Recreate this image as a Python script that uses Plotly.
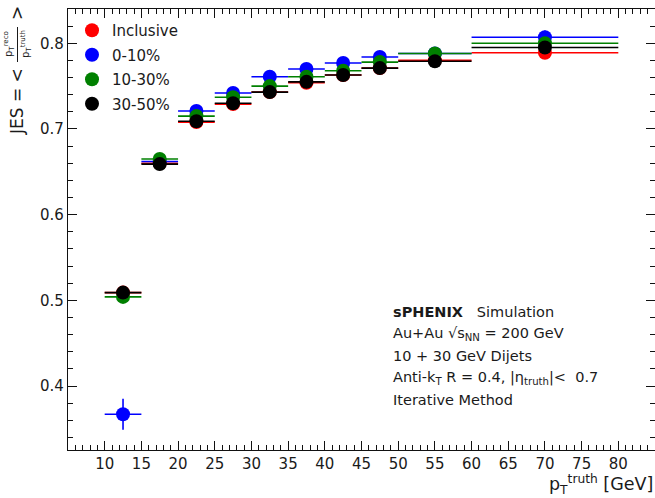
import plotly.graph_objects as go

# ---- data ----
bin_centers = [12.5, 17.5, 22.5, 27.5, 32.5, 37.5, 42.5, 47.5, 55.0, 70.0]
bin_halfwidths = [2.5, 2.5, 2.5, 2.5, 2.5, 2.5, 2.5, 2.5, 5.0, 10.0]

series_names = ["Inclusive", "0-10%", "10-30%", "30-50%"]
series_colors = ["#ff0000", "#0000ff", "#008000", "#000000"]

jes_inclusive = [0.509, 0.660, 0.708, 0.729, 0.743, 0.754, 0.763, 0.771, 0.780, 0.789]
jes_0_10 = [0.367, 0.662, 0.721, 0.742, 0.761, 0.770, 0.777, 0.784, 0.788, 0.807]
jes_10_30 = [0.504, 0.665, 0.715, 0.737, 0.750, 0.761, 0.768, 0.778, 0.788, 0.800]
jes_30_50 = [0.509, 0.659, 0.709, 0.730, 0.743, 0.755, 0.763, 0.771, 0.779, 0.795]

err_inclusive = [0.004, 0.002, 0.002, 0.002, 0.002, 0.002, 0.002, 0.002, 0.003, 0.004]
err_0_10 = [0.018, 0.003, 0.003, 0.003, 0.003, 0.003, 0.003, 0.003, 0.004, 0.008]
err_10_30 = [0.004, 0.002, 0.002, 0.002, 0.002, 0.002, 0.002, 0.002, 0.003, 0.005]
err_30_50 = [0.004, 0.002, 0.002, 0.002, 0.002, 0.002, 0.002, 0.002, 0.003, 0.005]

x_ticks = [10, 15, 20, 25, 30, 35, 40, 45, 50, 55, 60, 65, 70, 75, 80]
y_ticks = [0.4, 0.5, 0.6, 0.7, 0.8]

info_lines = [
    "<b>sPHENIX</b>   Simulation",
    "Au+Au √s<sub>NN</sub> = 200 GeV",
    "10 + 30 GeV Dijets",
    "Anti-k<sub>T</sub> R = 0.4, |η<sub>truth</sub>|&lt;  0.7",
    "Iterative Method",
]

# ---- figure ----
W, H = 655, 498
L, R, T, B = 68, 0, 9, 48
pw, ph = W - L - R, H - T - B

def px(xp):
    return (xp - L) / pw

def py(yp):
    return (H - B - yp) / ph

FONT = "DejaVu Sans"
fig = go.Figure()

all_vals = [jes_inclusive, jes_0_10, jes_10_30, jes_30_50]
all_errs = [err_inclusive, err_0_10, err_10_30, err_30_50]
for name, col, vals, errs in zip(series_names, series_colors, all_vals, all_errs):
    fig.add_trace(go.Scatter(
        x=bin_centers, y=vals, name=name, mode="markers", legendgroup=name,
        marker=dict(color=col, size=14, line=dict(width=0)),
        error_x=dict(type="data", array=bin_halfwidths, color=col, thickness=1.6, width=0),
        error_y=dict(type="data", array=errs, color=col, thickness=1.6, width=0),
    ))

axis_common = dict(
    ticks="inside", showline=True, linecolor="#111", linewidth=1.2,
    mirror="allticks", tickcolor="#111", tickwidth=1.2, ticklen=9,
    showgrid=False, zeroline=False,
    tickfont=dict(family=FONT, size=15, color="#1a1a1a"),
)

fig.update_xaxes(range=[5, 85], tickvals=x_ticks,
                 minor=dict(ticks="inside", dtick=1, tick0=5, ticklen=5, tickcolor="#111", tickwidth=1),
                 **axis_common)
fig.update_yaxes(range=[0.3253, 0.8400], tickvals=y_ticks, tickformat=".1f",
                 minor=dict(ticks="inside", dtick=0.02, tick0=0.3, ticklen=5, tickcolor="#111", tickwidth=1),
                 **axis_common)

annotations = []
# info text block
for i, line in enumerate(info_lines):
    annotations.append(dict(
        x=px(391), y=py(312 + 22 * i), xref="paper", yref="paper",
        text=line, showarrow=False, xanchor="left", yanchor="middle",
        font=dict(family=FONT, size=14.5, color="#1a1a1a"),
    ))

# x axis title
annotations.append(dict(
    x=1.0, y=py(484), xref="paper", yref="paper",
    text="p<sub>T</sub><sup>truth</sup> [GeV]", showarrow=False,
    xanchor="right", yanchor="middle",
    font=dict(family=FONT, size=17.5, color="#1a1a1a"),
))

# y axis title pieces (rotated)
annotations.append(dict(
    x=px(17), y=py(102), xref="paper", yref="paper", text="JES = &lt;",
    showarrow=False, textangle=-90, xanchor="center", yanchor="middle",
    font=dict(family=FONT, size=17, color="#1a1a1a"),
))
annotations.append(dict(
    x=px(9), y=py(44), xref="paper", yref="paper", text="p<sub>T</sub><sup>reco</sup>",
    showarrow=False, textangle=-90, xanchor="center", yanchor="middle",
    font=dict(family=FONT, size=10, color="#1a1a1a"),
))
annotations.append(dict(
    x=px(26), y=py(44), xref="paper", yref="paper", text="p<sub>T</sub><sup>truth</sup>",
    showarrow=False, textangle=-90, xanchor="center", yanchor="middle",
    font=dict(family=FONT, size=10, color="#1a1a1a"),
))
annotations.append(dict(
    x=px(17), y=py(13), xref="paper", yref="paper", text="&gt;",
    showarrow=False, textangle=-90, xanchor="center", yanchor="middle",
    font=dict(family=FONT, size=17, color="#1a1a1a"),
))

shapes = [dict(type="line", xref="paper", yref="paper",
               x0=px(17.5), x1=px(17.5), y0=py(27), y1=py(62),
               line=dict(color="#1a1a1a", width=1))]

fig.update_layout(
    width=W, height=H,
    margin=dict(l=L, r=R, t=T, b=B, pad=0),
    paper_bgcolor="white", plot_bgcolor="white",
    font=dict(family=FONT, color="#1a1a1a"),
    showlegend=True,
    legend=dict(x=px(72), y=py(14), xanchor="left", yanchor="top",
                bgcolor="rgba(0,0,0,0)", font=dict(family=FONT, size=15, color="#1a1a1a"),
                itemsizing="trace", traceorder="grouped", tracegroupgap=2),
    annotations=annotations, shapes=shapes,
)

fig.write_html("out.html")
